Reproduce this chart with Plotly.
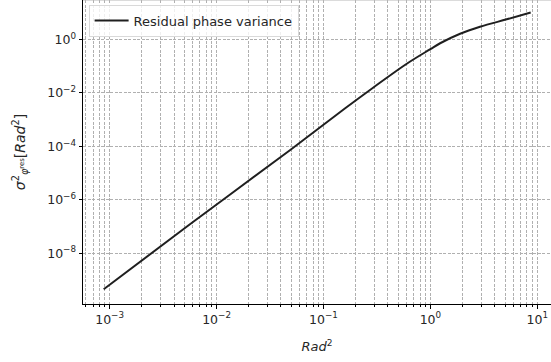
import plotly.graph_objects as go

# Data (log-log curve)
x_vals = [8.8e-4, 5.68e-3, 0.0489, 0.1596, 0.2931, 0.6012, 1.0, 1.233, 1.897, 2.911, 5.176, 8.670]
y_vals = [4.52e-10, 1.259e-7, 7.35e-5, 2.667e-3, 0.01603, 0.1242, 0.4365, 0.7244, 1.641, 2.985, 5.689, 10.23]
series_name = "Residual phase variance"

x_tickvals = [1e-3, 1e-2, 1e-1, 1e0, 1e1]
x_ticktext = ["10<sup>−3</sup>", "10<sup>−2</sup>", "10<sup>−1</sup>", "10<sup>0</sup>", "10<sup>1</sup>"]
y_tickvals = [1e-8, 1e-6, 1e-4, 1e-2, 1e0]
y_ticktext = ["10<sup>−8</sup>", "10<sup>−6</sup>", "10<sup>−4</sup>", "10<sup>−2</sup>", "10<sup>0</sup>"]

grid_color = "#b0b0b0"
dash = "3px,1.5px"
txt = "#262626"
tick_font = dict(family="DejaVu Sans", size=12.5, color=txt)

fig = go.Figure()
fig.add_trace(go.Scatter(
    x=x_vals, y=y_vals, mode="lines", name=series_name,
    line=dict(color="#1f1f1f", width=2, shape="spline", smoothing=1.0),
))

fig.update_layout(
    width=551, height=362,
    margin=dict(l=83, r=0, t=0, b=58),
    paper_bgcolor="white", plot_bgcolor="white",
    showlegend=True,
    legend=dict(
        x=0.012, y=0.985, xanchor="left", yanchor="top",
        bgcolor="rgba(255,255,255,0.8)", bordercolor="#d9d9d9", borderwidth=1,
        font=dict(family="DejaVu Sans", size=13, color=txt),
        itemwidth=34, tracegroupgap=0,
    ),
    font=dict(family="DejaVu Sans", size=12, color=txt),
)

fig.update_xaxes(
    type="log", range=[-3.249, 1.128],
    tickmode="array", tickvals=x_tickvals, ticktext=x_ticktext,
    showgrid=True, gridcolor=grid_color, griddash=dash, gridwidth=0.8,
    showline=True, linecolor="black", linewidth=1, mirror=False,
    ticks="outside", ticklen=3.5, tickwidth=0.8, tickcolor="black",
    tickfont=tick_font, zeroline=False,
    minor=dict(dtick="D1", showgrid=True, gridcolor=grid_color, griddash=dash,
               gridwidth=0.8, ticks="outside", ticklen=2, tickwidth=0.6, tickcolor="black"),
    title=dict(text="<i>Rad</i><sup>2</sup>", font=dict(family="DejaVu Sans", size=13, color=txt), standoff=16),
)

fig.update_yaxes(
    type="log", range=[-9.895, 1.478],
    tickmode="array", tickvals=y_tickvals, ticktext=y_ticktext,
    showgrid=True, gridcolor=grid_color, griddash=dash, gridwidth=0.8,
    showline=True, linecolor="black", linewidth=1, mirror=False,
    ticks="outside", ticklen=3.5, tickwidth=0.8, tickcolor="black",
    tickfont=tick_font, zeroline=False,
    title=dict(text="<i>σ</i><sup>2</sup><sub><i>φ</i><sup>res</sup></sub>[<i>Rad</i><sup>2</sup>]",
               font=dict(family="DejaVu Sans", size=14, color=txt), standoff=18),
)

fig.add_shape(type="line", xref="paper", yref="paper", x0=0, x1=1, y0=1, y1=1,
              line=dict(color="#b8b8b8", width=1))

fig.write_html("out.html")
